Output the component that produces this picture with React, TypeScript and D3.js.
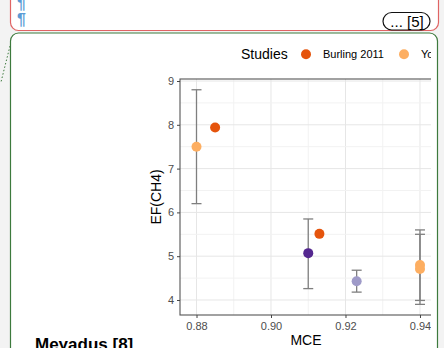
import { useEffect, useRef } from "react";
import * as d3 from "d3";

// chart values
const studyNames = ["Burling 2011", "Yokelson 2013"];
const studyColors = ["#e5540c", "#fdae61", "#54278f", "#9e9ac8"];

const mce = [0.88, 0.885, 0.91, 0.913, 0.923, 0.94, 0.94];
const efCH4 = [7.5, 7.94, 5.07, 5.51, 4.43, 4.8, 4.71];
const efLow = [6.2, null, 4.26, null, 4.18, 3.99, 3.9];
const efHigh = [8.8, null, 5.85, null, 4.68, 5.6, 5.5];
const pointStudy = [1, 0, 2, 0, 3, 1, 1];

const xTicks = [0.88, 0.9, 0.92, 0.94];
const xMinor = [0.89, 0.91, 0.93];
const yTicks = [4, 5, 6, 7, 8, 9];
const yMinor = [4.5, 5.5, 6.5, 7.5, 8.5];

const width = 444;
const height = 348;
const panel = { left: 180, right: 436, top: 79, bottom: 315 };
const font = "Liberation Sans, Arial, sans-serif";

const x = d3.scaleLinear().domain([0.87557, 0.9443]).range([panel.left, panel.right]);
const y = d3.scaleLinear().domain([3.6575, 9.0457]).range([panel.bottom, panel.top]);

const App = () => {
  const ref = useRef<SVGGElement>(null);

  useEffect(() => {
    const g = d3.select(ref.current);
    g.selectAll("*").remove();

    // grid
    g.selectAll(".gx")
      .data([...xMinor, ...xTicks])
      .join("line")
      .attr("x1", (d) => x(d)).attr("x2", (d) => x(d))
      .attr("y1", panel.top).attr("y2", panel.bottom)
      .attr("stroke", (d, i) => (i < xMinor.length ? "#f2f2f2" : "#e6e6e6"))
      .attr("stroke-width", 1);
    g.selectAll(".gy")
      .data([...yMinor, ...yTicks])
      .join("line")
      .attr("y1", (d) => y(d)).attr("y2", (d) => y(d))
      .attr("x1", panel.left).attr("x2", panel.right)
      .attr("stroke", (d, i) => (i < yMinor.length ? "#f2f2f2" : "#e6e6e6"))
      .attr("stroke-width", 1);

    g.append("rect")
      .attr("x", panel.left).attr("y", panel.top)
      .attr("width", panel.right - panel.left).attr("height", panel.bottom - panel.top)
      .attr("fill", "none").attr("stroke", "#555").attr("stroke-width", 1.1);

    // axes
    const xAxis = d3.axisBottom(x).tickValues(xTicks).tickFormat(d3.format(".2f")).tickSize(3).tickPadding(4);
    const gx = g.append("g").attr("transform", `translate(0,${panel.bottom})`).call(xAxis);
    const yAxis = d3.axisLeft(y).tickValues(yTicks).tickFormat(d3.format("d")).tickSize(3).tickPadding(3);
    const gy = g.append("g").attr("transform", `translate(${panel.left},0)`).call(yAxis);
    [gx, gy].forEach((a) => {
      a.select(".domain").remove();
      a.selectAll("line").attr("stroke", "#444");
      a.selectAll("text")
        .attr("fill", "#4d4d4d")
        .attr("font-size", 11)
        .attr("font-family", font);
    });

    g.append("text")
      .attr("x", (panel.left + panel.right) / 2 - 2).attr("y", 345)
      .attr("text-anchor", "middle").attr("font-size", 14)
      .attr("font-family", font)
      .text("MCE");
    g.append("text")
      .attr("transform", `translate(161,${(panel.top + panel.bottom) / 2}) rotate(-90)`)
      .attr("text-anchor", "middle").attr("font-size", 14)
      .attr("font-family", font)
      .text("EF(CH4)");

    // error bars
    const idx = d3.range(mce.length);
    const bars = g.selectAll(".eb").data(idx.filter((i) => efLow[i] != null)).join("g");
    bars.append("line")
      .attr("x1", (i) => x(mce[i])).attr("x2", (i) => x(mce[i]))
      .attr("y1", (i) => y(efLow[i]!)).attr("y2", (i) => y(efHigh[i]!));
    bars.append("line")
      .attr("x1", (i) => x(mce[i]) - 5).attr("x2", (i) => x(mce[i]) + 5)
      .attr("y1", (i) => y(efLow[i]!)).attr("y2", (i) => y(efLow[i]!));
    bars.append("line")
      .attr("x1", (i) => x(mce[i]) - 5).attr("x2", (i) => x(mce[i]) + 5)
      .attr("y1", (i) => y(efHigh[i]!)).attr("y2", (i) => y(efHigh[i]!));
    bars.selectAll("line").attr("stroke", "#7f7f7f").attr("stroke-width", 1.3);

    // points
    g.selectAll(".pt")
      .data(idx)
      .join("circle")
      .attr("cx", (i) => x(mce[i]))
      .attr("cy", (i) => y(efCH4[i]))
      .attr("r", 5)
      .attr("fill", (i) => studyColors[pointStudy[i]]);

    // legend (cropped at the box edge, as in the reference)
    const lg = g.append("g").attr("font-family", font);
    lg.append("text").attr("x", 241).attr("y", 59).attr("font-size", 14).text("Studies");
    const legendX = [306, 404];
    studyNames.forEach((name, i) => {
      lg.append("circle").attr("cx", legendX[i]).attr("cy", 54.3).attr("r", 5).attr("fill", studyColors[i]);
      lg.append("text").attr("x", legendX[i] + 17).attr("y", 58).attr("font-size", 11).text(name);
    });
  }, []);

  return (
    <svg width={width} height={height} style={{ position: "absolute", left: 0, top: 0 }}>
      <defs>
        <clipPath id="chartClip">
          <rect x={12} y={34} width={419} height={320} />
        </clipPath>
      </defs>
      <rect width={width} height={height} fill="#f3f3f3" />
      {/* upper (red) box */}
      <rect x={10.5} y={-20} width={428} height={50.5} rx={8} fill="#fff" stroke="#e06464" strokeWidth={1.2} />
      <text x={17} y={9} fill="#5b9bd5" fontSize={16} fontWeight="bold" fontFamily={font}>¶</text>
      <text x={17} y={25} fill="#5b9bd5" fontSize={16} fontWeight="bold" fontFamily={font}>¶</text>
      <rect x={383} y={12.5} width={47} height={17.5} rx={8.75} fill="#fff" stroke="#111" strokeWidth={1.2} />
      <text x={407} y={27} textAnchor="middle" fontSize={15} fontFamily={font}>
        ... [5]
      </text>
      {/* lower (green) box */}
      <rect x={10.5} y={33} width={427} height={340} rx={8} fill="#fff" stroke="#3d7a3d" strokeWidth={1.2} />
      <line x1={10} y1={46} x2={1} y2={82} stroke="#3d7a3d" strokeWidth={1} strokeDasharray="1.5,2" />
      <g clipPath="url(#chartClip)">
        <g ref={ref} />
      </g>
      <text x={35} y={350} fontSize={17} fontWeight="bold" fontFamily={font}>
        Meyadus [8]
      </text>
    </svg>
  );
};

export default App;
